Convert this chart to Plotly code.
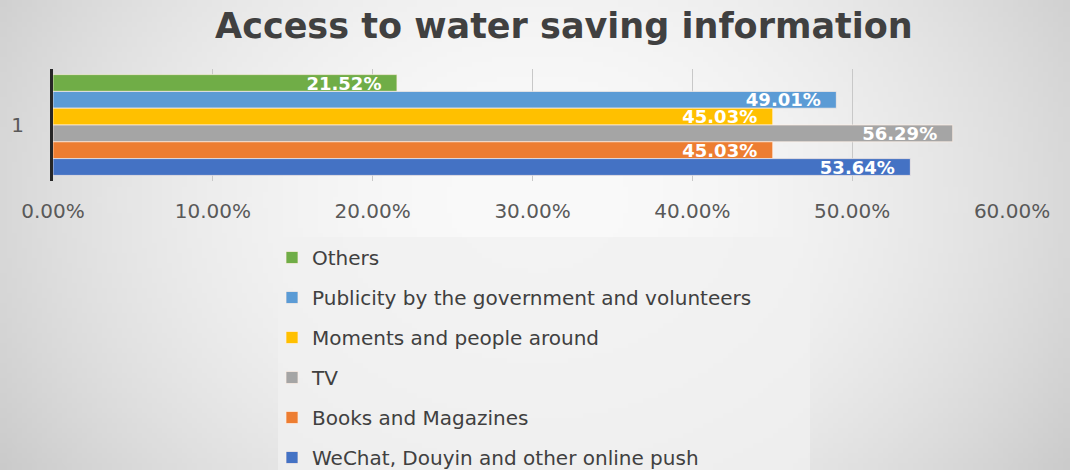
import base64, struct, zlib
import numpy as np
import plotly.graph_objects as go

# ---- data (listed top to bottom as drawn) ----
categories = ["1"]
series_names = [
    "Others",
    "Publicity by the government and volunteers",
    "Moments and people around",
    "TV",
    "Books and Magazines",
    "WeChat, Douyin and other online push",
]
series_values = [21.52, 49.01, 45.03, 56.29, 45.03, 53.64]
series_colors = ["#70AD47", "#5B9BD5", "#FFC000", "#A5A5A5", "#ED7D31", "#4472C4"]
x_tickvals = [0, 10, 20, 30, 40, 50, 60]
x_ticktext = ["0.00%", "10.00%", "20.00%", "30.00%", "40.00%", "50.00%", "60.00%"]

W, H = 1070, 470
ML, MR, MT, MB = 53, 58, 69, 289
PW, PH = W - ML - MR, H - MT - MB
FONT = "DejaVu Sans"


def gradient_png(w, h):
    yy, xx = np.mgrid[0:h, 0:w]
    cx, cy = w / 2, h * 0.42
    d = np.sqrt(((xx - cx) / (w / 2)) ** 2 + 0.3 * ((yy - cy) / (h / 2)) ** 2)
    v = np.clip(250 - 34 * d ** 2, 0, 255).astype(np.uint8)
    raw = b"".join(b"\x00" + v[r].tobytes() for r in range(h))

    def chunk(t, data):
        c = struct.pack(">I", len(data)) + t + data
        return c + struct.pack(">I", zlib.crc32(t + data) & 0xFFFFFFFF)

    png = b"\x89PNG\r\n\x1a\n" + chunk(b"IHDR", struct.pack(">IIBBBBB", w, h, 8, 0, 0, 0, 0))
    png += chunk(b"IDAT", zlib.compress(raw, 9)) + chunk(b"IEND", b"")
    return "data:image/png;base64," + base64.b64encode(png).decode()


def px_x(p):
    return (p - ML) / PW


def px_y(p):
    return 1 - (p - MT) / PH


PAD = "\u00a0\u00a0"

fig = go.Figure()
for name, val, col in zip(series_names, series_values, series_colors):
    fig.add_trace(go.Bar(
        y=categories, x=[val], name=name, orientation="h",
        marker=dict(color=col, line=dict(width=1, color="rgba(255,240,230,0.7)")),
        text=[f"{val:.2f}%" + PAD], textposition="inside", insidetextanchor="end",
        constraintext="none",
        textfont=dict(family=FONT, size=18, color="white", weight="bold"),
        legendgroup=name,
    ))

fig.update_layout(
    width=W, height=H,
    margin=dict(l=ML, r=MR, t=MT, b=MB, autoexpand=False),
    barmode="group", bargap=0.1, bargroupgap=0.0,
    paper_bgcolor="white", plot_bgcolor="rgba(0,0,0,0)",
    title=dict(text="<b>Access to water saving information</b>",
               font=dict(family=FONT, size=35, color="#404040"),
               x=0.527, xanchor="center", y=1 - 26 / H, yanchor="middle",
               xref="container", yref="container"),
    font=dict(family=FONT, color="#595959"),
    showlegend=True,
    legend=dict(traceorder="grouped", tracegroupgap=11,
                x=px_x(272), xanchor="left",
                y=px_y(238), yanchor="top",
                bgcolor="rgba(0,0,0,0)", font=dict(size=20, color="#404040"),
                itemclick=False),
    images=[dict(source=gradient_png(214, 94), xref="paper", yref="paper",
                 x=-ML / PW, y=1 + MT / PH, sizex=W / PW, sizey=H / PH,
                 xanchor="left", yanchor="top", sizing="stretch", layer="below")],
    shapes=[dict(type="rect", xref="paper", yref="paper",
                 x0=px_x(278), x1=px_x(810), y0=px_y(237), y1=px_y(472),
                 fillcolor="rgba(240,240,240,0.75)", line=dict(width=0), layer="below")],
)
try:
    fig.update_layout(legend_maxheight=300)
except Exception:
    pass

fig.update_xaxes(range=[0, 60], tickvals=x_tickvals, ticktext=x_ticktext,
                 showgrid=True, gridcolor="#c8c8c8", gridwidth=1,
                 zeroline=False, showline=False,
                 ticks="outside", ticklen=12, tickcolor="rgba(0,0,0,0)",
                 tickfont=dict(size=20, color="#595959"))
fig.update_yaxes(range=[0.5, -0.5], showline=True, linecolor="#262626", linewidth=3,
                 ticks="outside", ticklen=22, tickcolor="rgba(0,0,0,0)",
                 tickfont=dict(size=20, color="#595959"), showgrid=False)

fig.write_html("out.html")
